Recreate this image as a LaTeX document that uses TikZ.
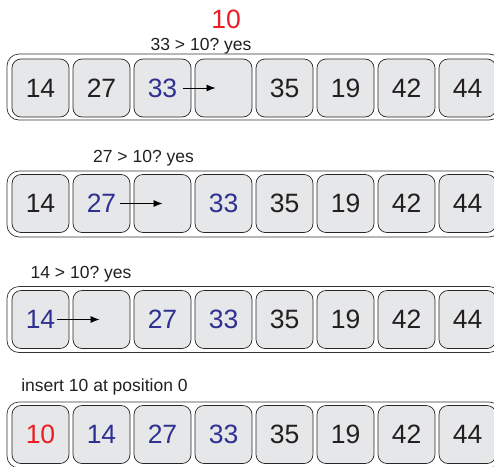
\documentclass[tikz,border=0pt]{standalone}
\usepackage{fontspec}
\setmainfont{Liberation Sans}
\usetikzlibrary{arrows.meta}
\definecolor{cellgray}{RGB}{230,231,232}
\definecolor{numblack}{RGB}{35,31,32}
\definecolor{numblue}{RGB}{46,49,146}
\definecolor{numred}{RGB}{237,28,36}
\frenchspacing

\begin{document}
\begin{tikzpicture}[x=1pt, y=-1pt, >={Latex[length=9pt,width=7pt]},
    cell/.style={draw=black!85, fill=cellgray, rounded corners=9pt, minimum width=57pt,
      minimum height=58pt, inner sep=0pt, line width=0.7pt, font=\fontsize{26.5}{27}\selectfont},
    strip/.style={draw=black!80, rounded corners=12pt, minimum width=494pt,
      minimum height=66pt, inner sep=0pt, line width=0.7pt},
    lbl/.style={anchor=base, inner sep=0pt, text=numblack, font=\fontsize{17.5}{18}\selectfont}]
        \useasboundingbox (0,0) rectangle (494,466);

        % Einzufügender Wert
        \node[anchor=base, inner sep=0pt, text=numred, font=\fontsize{26.5}{27}\selectfont] (key) at (226,28) {10};

        % Schritt 1
        \node[lbl] (t1) at (201,50) {33 > 10? yes};
        \node[strip] (s1) at (254,87) {};
        \foreach \v/\c [count=\i] in {14/numblack, 27/numblack, 33/numblue, /numblack, 35/numblack, 19/numblack, 42/numblack, 44/numblack}
            \node[cell, text=\c] (r1-\i) at ({40.5+61*(\i-1)},88) {\v};
        \draw[->, line width=0.8pt] ([xshift=20pt]r1-3.center) -- ([xshift=-8pt]r1-4.center);

        % Schritt 2
        \node[lbl] (t2) at (143.5,162) {27 > 10? yes};
        \node[strip] (s2) at (254,204) {};
        \foreach \v/\c [count=\i] in {14/numblack, 27/numblue, /numblack, 33/numblue, 35/numblack, 19/numblack, 42/numblack, 44/numblack}
            \node[cell, text=\c] (r2-\i) at ({40.5+61*(\i-1)},203.5) {\v};
        \draw[->, line width=0.8pt] ([xshift=18pt]r2-2.center) -- ([xshift=0pt]r2-3.center);

        % Schritt 3
        \node[lbl] (t3) at (81,278) {14 > 10? yes};
        \node[strip] (s3) at (254,319.5) {};
        \foreach \v/\c [count=\i] in {14/numblue, /numblack, 27/numblue, 33/numblue, 35/numblack, 19/numblack, 42/numblack, 44/numblack}
            \node[cell, text=\c] (r3-\i) at ({40.5+61*(\i-1)},319.5) {\v};
        \draw[->, line width=0.8pt] ([xshift=16pt]r3-1.center) -- ([xshift=-2pt]r3-2.center);

        % Einfügen
        \node[lbl] (t4) at (104.5,391) {insert 10 at position 0};
        \node[strip] (s4) at (254,435) {};
        \foreach \v/\c [count=\i] in {10/numred, 14/numblue, 27/numblue, 33/numblue, 35/numblack, 19/numblack, 42/numblack, 44/numblack}
            \node[cell, text=\c] (r4-\i) at ({40.5+61*(\i-1)},434.5) {\v};
    \end{tikzpicture}
\end{document}
